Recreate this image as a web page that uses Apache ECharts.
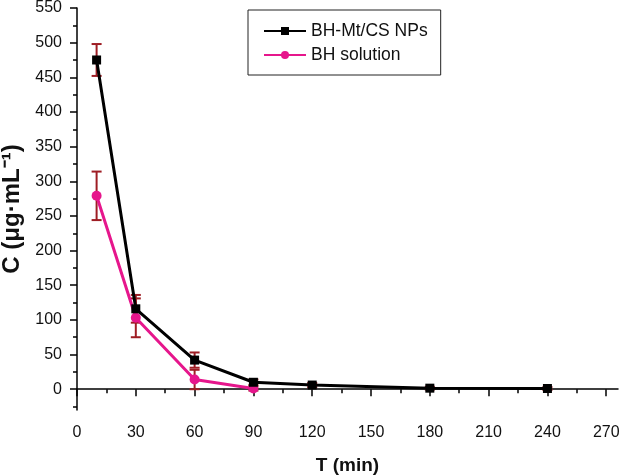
<!DOCTYPE html>
<html>
<head>
<meta charset="utf-8">
<script src="https://cdn.jsdelivr.net/npm/echarts@6/dist/echarts.min.js"></script>
<style>html,body{margin:0;padding:0;background:#fff}#c{width:620px;height:475px}</style>
</head>
<body>
<div id="c"></div>
<script>
var timesNP = [10, 30, 60, 90, 120, 180, 240];
var valuesNP = [475, 116, 42, 10, 6, 1.5, 1];
var errNP = [23, 20, 11, 4, 3, 2, 2];
var timesSol = [10, 30, 60, 90];
var valuesSol = [279, 103, 14, 1];
var errSol = [35, 28, 14, 3];
var xTickLabels = [0, 30, 60, 90, 120, 150, 180, 210, 240, 270];
var xMinorTicks = [15, 45, 75, 105, 135, 165, 195, 225, 255];
var yTickLabels = [0, 50, 100, 150, 200, 250, 300, 350, 400, 450, 500, 550];
var yMinorTicks = [-25, 25, 75, 125, 175, 225, 275, 325, 375, 425, 475, 525];
var nameNP = 'BH-Mt/CS NPs';
var nameSol = 'BH solution';

var FONT = 'Liberation Sans, Arial, sans-serif';
var errColor = '#9e1d24';

function pairs(xs, ys) { return xs.map(function (x, i) { return [x, ys[i]]; }); }
function errData(xs, ys, es) { return xs.map(function (x, i) { return [x, ys[i] - es[i], ys[i] + es[i]]; }); }

function errRender(params, api) {
  var x = api.value(0);
  var lo = api.coord([x, api.value(1)]);
  var hi = api.coord([x, api.value(2)]);
  var w = 5;
  var st = { stroke: errColor, lineWidth: 2 };
  return {
    type: 'group',
    children: [
      { type: 'line', shape: { x1: lo[0], y1: lo[1], x2: hi[0], y2: hi[1] }, style: st },
      { type: 'line', shape: { x1: lo[0] - w, y1: lo[1], x2: lo[0] + w, y2: lo[1] }, style: st },
      { type: 'line', shape: { x1: hi[0] - w, y1: hi[1], x2: hi[0] + w, y2: hi[1] }, style: st }
    ]
  };
}

var axisLine = { show: true, lineStyle: { color: '#000', width: 1.5 } };
var chart = echarts.init(document.getElementById('c'));
chart.setOption({
  animation: false,
  textStyle: { fontFamily: FONT },
  grid: { left: 77, right: 2, top: 8, bottom: 65, containLabel: false, outerBoundsMode: 'none' },
  legend: {
    orient: 'vertical', left: 248, top: 10,
    padding: [12, 13, 11, 15],
    itemGap: 6,
    itemWidth: 42, itemHeight: 10,
    borderColor: '#222', borderWidth: 1, borderRadius: 0,
    textStyle: { fontFamily: FONT, fontSize: 17.5, color: '#111' },
    data: [nameNP, nameSol]
  },
  xAxis: [{
    type: 'value', min: 0, max: 276,
    name: 'T (min)', nameLocation: 'middle', nameGap: 46,
    nameTextStyle: { fontFamily: FONT, fontSize: 19, fontWeight: 'bold', color: '#111' },
    axisLine: axisLine,
    axisTick: { show: true, inside: false, length: 7, lineStyle: { color: '#000', width: 1.5 }, customValues: xTickLabels },
    axisLabel: { margin: 15, fontSize: 16, color: '#111', fontFamily: FONT, customValues: xTickLabels },
    splitLine: { show: false }
  }, {
    type: 'value', min: 0, max: 276, position: 'bottom',
    axisLine: { show: false },
    axisTick: { show: true, inside: false, length: 4, lineStyle: { color: '#000', width: 1.5 }, customValues: xMinorTicks },
    axisLabel: { show: false },
    splitLine: { show: false }
  }],
  yAxis: [{
    type: 'value', min: -30, max: 550,
    name: 'C (μg·mL\u207B\u00B9)', nameLocation: 'middle', nameGap: 47,
    nameTextStyle: { fontFamily: FONT, fontSize: 24, fontWeight: 'bold', color: '#111' },
    axisLine: axisLine,
    axisTick: { show: true, inside: false, length: 7, lineStyle: { color: '#000', width: 1.5 }, customValues: yTickLabels },
    axisLabel: { margin: 15, fontSize: 16, color: '#111', fontFamily: FONT, customValues: yTickLabels },
    splitLine: { show: false }
  }, {
    type: 'value', min: -30, max: 550, position: 'left',
    axisLine: { show: false },
    axisTick: { show: true, inside: false, length: 4, lineStyle: { color: '#000', width: 1.5 }, customValues: yMinorTicks },
    axisLabel: { show: false },
    splitLine: { show: false }
  }],
  series: [
    {
      type: 'custom', name: 'errNP', renderItem: errRender, z: 1,
      data: errData(timesNP, valuesNP, errNP), encode: { x: 0, y: [1, 2] }, silent: true
    },
    {
      type: 'custom', name: 'errSol', renderItem: errRender, z: 1,
      data: errData(timesSol, valuesSol, errSol), encode: { x: 0, y: [1, 2] }, silent: true
    },
    {
      type: 'line', name: nameNP, data: pairs(timesNP, valuesNP), z: 4,
      symbol: 'rect', symbolSize: 9,
      lineStyle: { color: '#000', width: 3 },
      itemStyle: { color: '#000' }
    },
    {
      type: 'line', name: nameSol, data: pairs(timesSol, valuesSol), z: 3,
      symbol: 'circle', symbolSize: 10,
      lineStyle: { color: '#e6168c', width: 3 },
      itemStyle: { color: '#e6168c' }
    }
  ]
});
</script>
</body>
</html>
